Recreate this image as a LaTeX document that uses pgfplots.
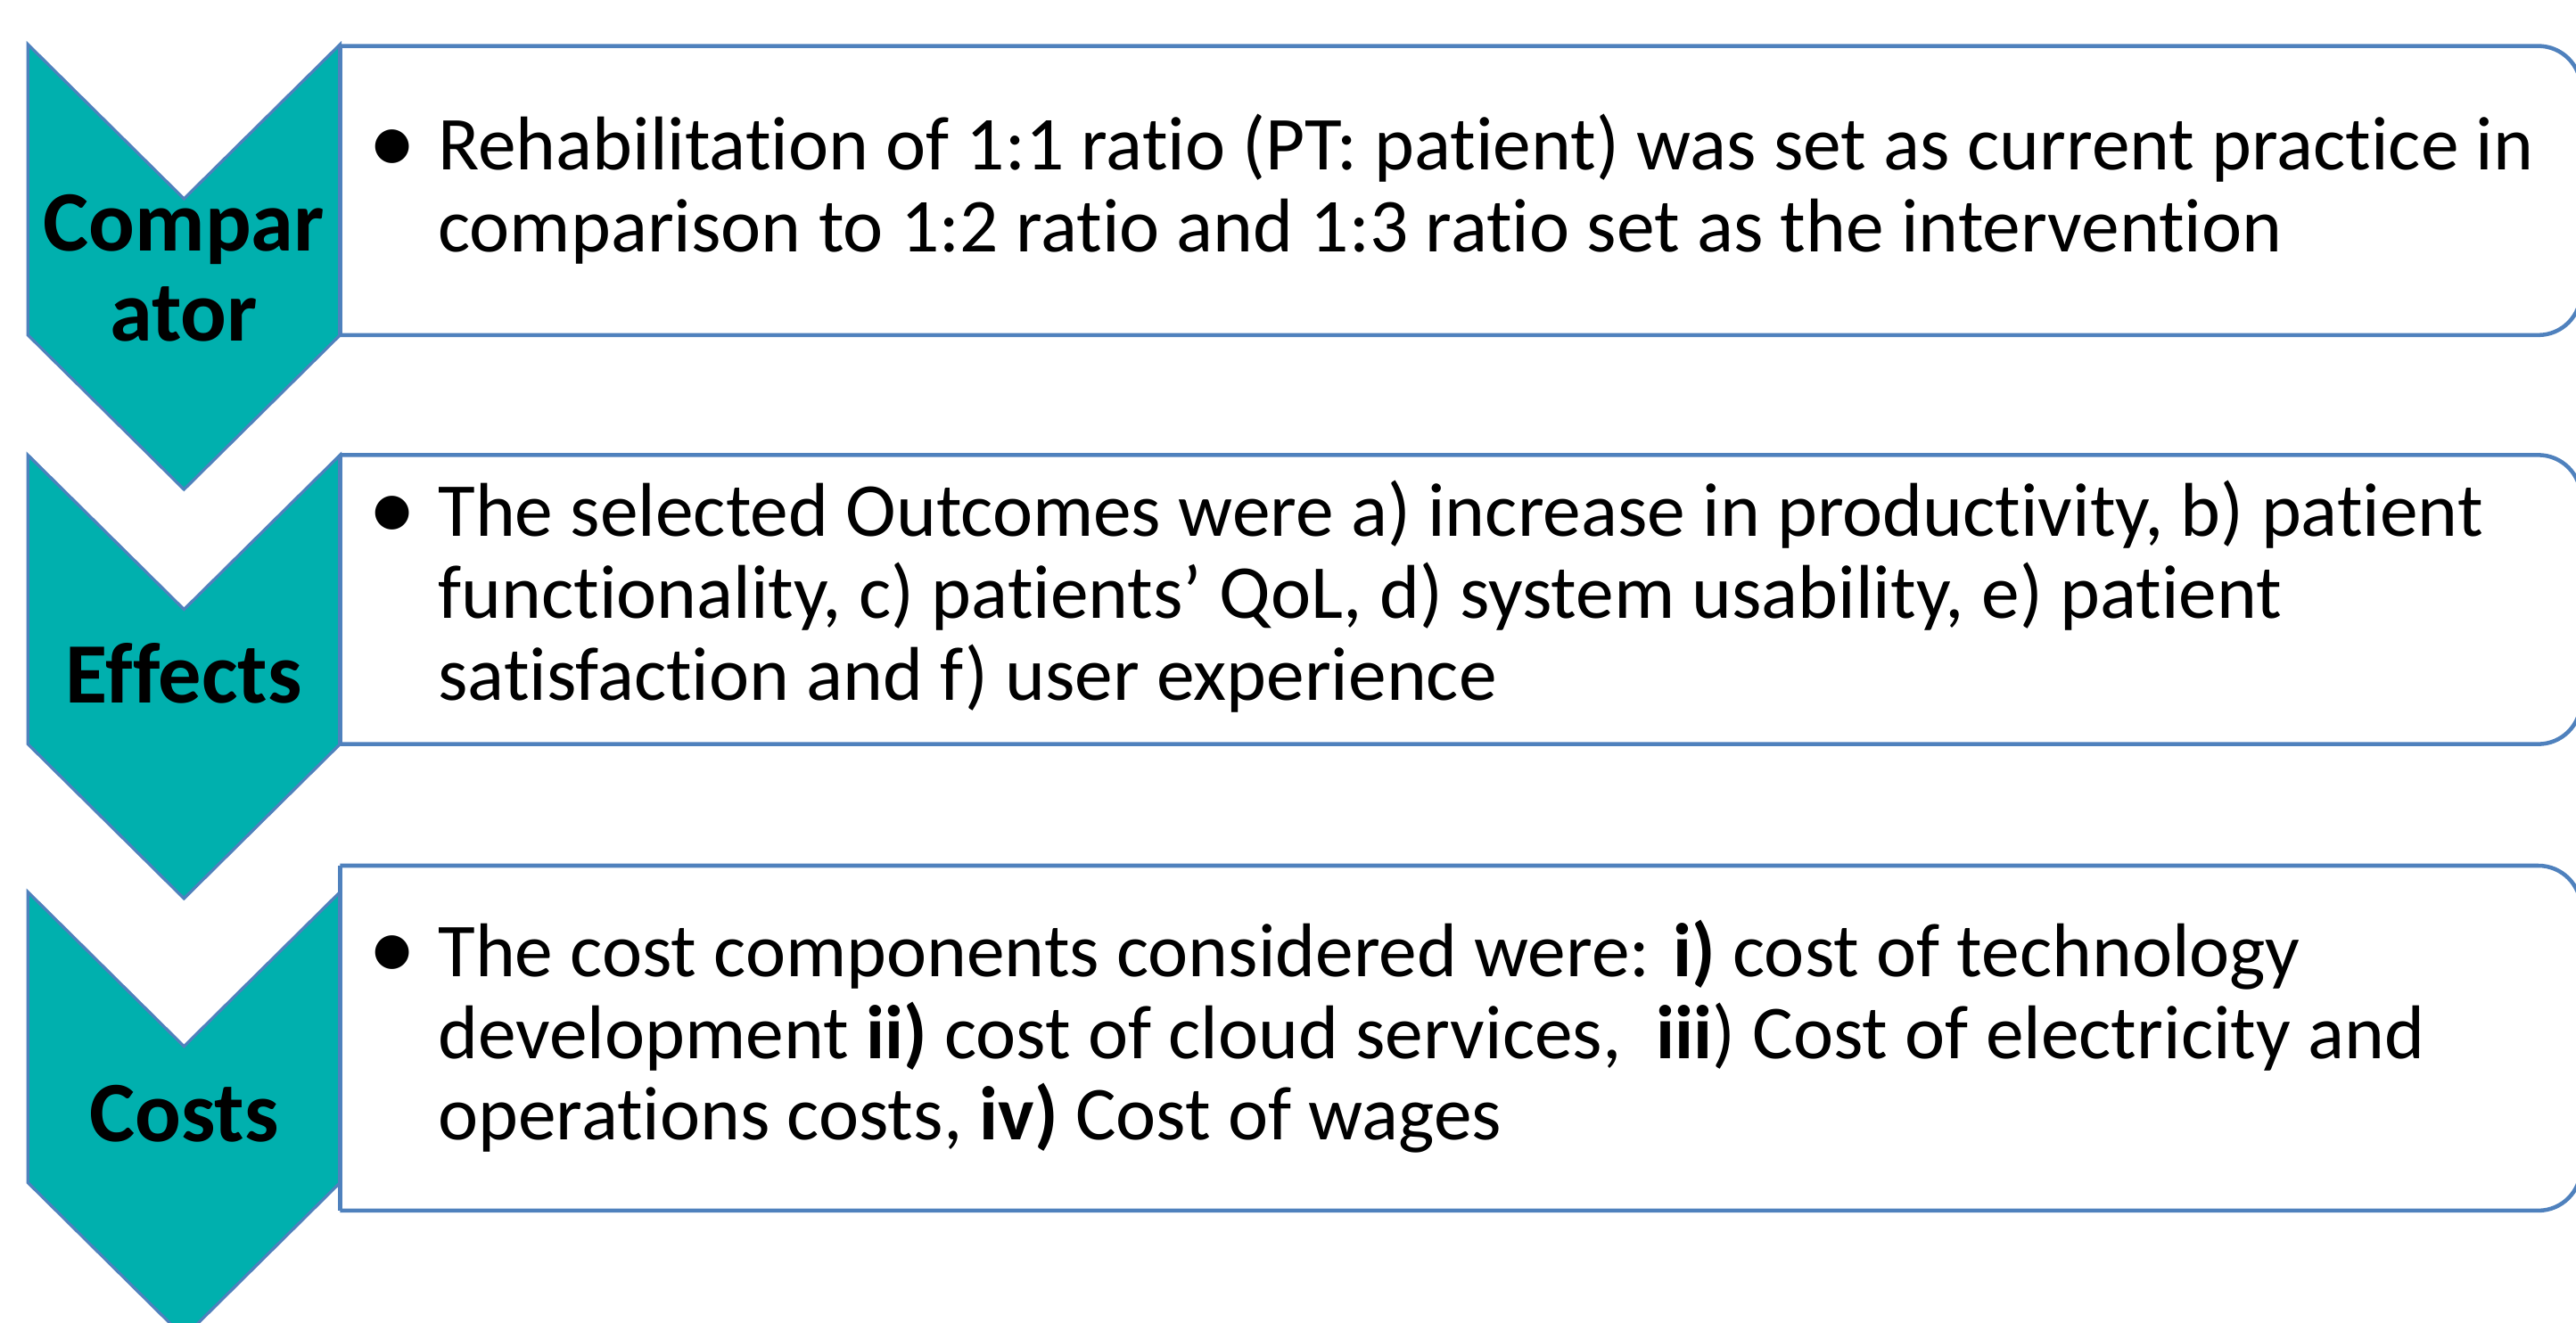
\documentclass[border=0pt]{standalone}
\usepackage{pgfplots}
\pgfplotsset{compat=1.18}
\usepackage{fontspec}
\setmainfont[RawFeature={-liga;-clig;-calt;-dlig;-ccmp;-rlig}]{Carlito}
\definecolor{chev}{RGB}{0,176,174}
\definecolor{edge}{RGB}{79,129,189}
\newcommand{\bul}{\llap{\raisebox{-0.6pt}{\fontsize{16.5}{14}\selectfont•}\hspace{3.8pt}}}
\begin{document}
\begin{tikzpicture}
\begin{axis}[width=15.68cm,height=8.05cm,scale only axis,
  xmin=0,xmax=1568,ymin=0,ymax=805,y dir=reverse,
  hide axis,clip=true,no markers]
\addplot[draw=none] coordinates {(0,0) (1568,805)};
% chevrons
\addplot[fill=chev,draw=edge,line width=0.5pt] coordinates {(17,27) (112,121) (207,27) (207,204) (112,298) (17,204)} -- cycle;
\addplot[fill=chev,draw=edge,line width=0.5pt] coordinates {(17,277) (112,371) (207,277) (207,453) (112,547) (17,453)} -- cycle;
\addplot[fill=chev,draw=edge,line width=0.5pt] coordinates {(17,543) (112,637) (207,543) (207,720) (112,814) (17,720)} -- cycle;
% boxes
\addplot[fill=white,draw=edge,line width=0.7pt,rounded corners=7.4pt] coordinates {(207,28) (1571,28) (1571,204) (207,204)};
\addplot[draw=edge,line width=0.7pt] coordinates {(207,204) (207,28)};
\addplot[fill=white,draw=edge,line width=0.7pt,rounded corners=7.4pt] coordinates {(207,277) (1571,277) (1571,453) (207,453)};
\addplot[draw=edge,line width=0.7pt] coordinates {(207,453) (207,277)};
\addplot[fill=white,draw=edge,line width=0.7pt,rounded corners=7.4pt] coordinates {(207,527) (1571,527) (1571,737) (207,737)};
\addplot[draw=edge,line width=0.7pt] coordinates {(207,737) (207,527)};
% labels
\node[font=\bfseries\fontsize{14.9}{15.6}\selectfont,align=center,inner sep=0pt] at (axis cs:112,163) {Compar\\ator};
\node[font=\bfseries\fontsize{14.9}{15.6}\selectfont,align=center,inner sep=0pt] at (axis cs:112,410) {Effects};
\node[font=\bfseries\fontsize{14.9}{15.6}\selectfont,align=center,inner sep=0pt] at (axis cs:112,678) {Costs};
% texts
\node[anchor=west,align=left,inner sep=0pt,font=\fontsize{13.2}{14.2}\selectfont] at (axis cs:266,115)
 {\bul Rehabilitation of 1:1 ratio (PT: patient) was set as current practice in\\comparison to 1:2 ratio and 1:3 ratio set as the intervention};
\node[anchor=west,align=left,inner sep=0pt,font=\fontsize{13.2}{14.2}\selectfont] at (axis cs:266,363)
 {\bul The selected Outcomes were a) increase in productivity, b) patient\\functionality, c) patients’ QoL, d) system usability, e) patient\\satisfaction and f) user experience};
\node[anchor=west,align=left,inner sep=0pt,font=\fontsize{13.2}{14.2}\selectfont] at (axis cs:266,631)
 {\bul The cost components considered were: \textbf{i)} cost of technology\\development \textbf{ii)} cost of cloud services,\ \ \textbf{iii}) Cost of electricity and\\operations costs, \textbf{iv)} Cost of wages};
\end{axis}
\end{tikzpicture}
\end{document}
